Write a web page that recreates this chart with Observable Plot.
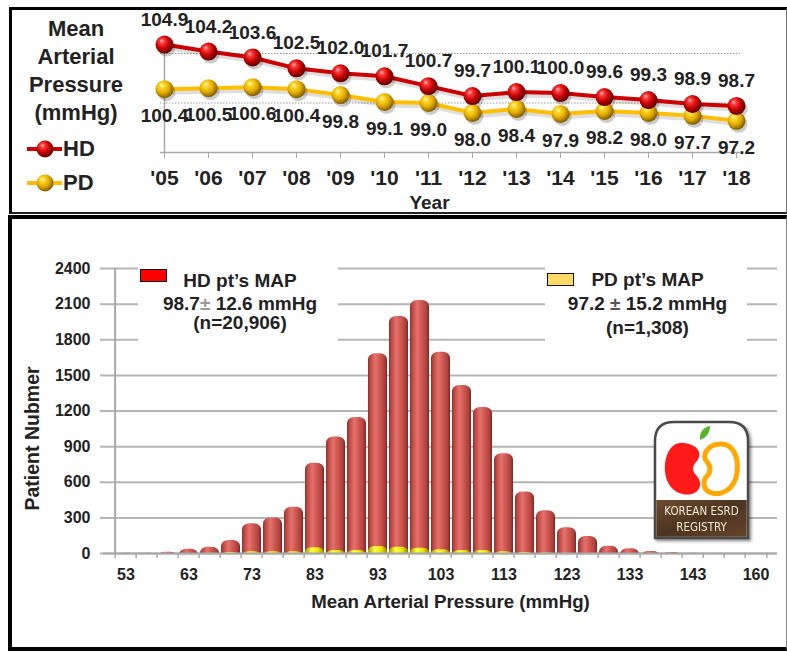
<!DOCTYPE html>
<html>
<head>
<meta charset="utf-8">
<script src="https://cdn.jsdelivr.net/npm/d3@7"></script>
<script src="https://cdn.jsdelivr.net/npm/@observablehq/plot@0.6"></script>
<style>
  body { margin: 0; background: #fff; font-family: "Liberation Sans", Arial, sans-serif; }
  #wrap { position: relative; width: 787px; height: 652px; overflow: hidden; background: #fff; }
  #wrap svg text { font-weight: bold; }
  .abs { position: absolute; }
  .panel { position: absolute; box-sizing: border-box; pointer-events: none; }
  .ttl { font-size: 22px; font-weight: bold; color: #222; text-align: center; line-height: 28px; }
  .leg { font-size: 22px; font-weight: bold; color: #222; }
  .mapbox { background: #fff; color: #222; font-weight: bold; font-size: 19px; text-align: center; line-height: 22px; }
  .swatch { position: absolute; width: 25px; height: 11px; border: 1.5px solid #111; }
</style>
</head>
<body>
<div id="wrap"></div>
<script>
// Yearly mean arterial pressure, HD vs PD patients
const years = ["'05", "'06", "'07", "'08", "'09", "'10", "'11", "'12", "'13", "'14", "'15", "'16", "'17", "'18"];
const hdMap = [104.9, 104.2, 103.6, 102.5, 102.0, 101.7, 100.7, 99.7, 100.1, 100.0, 99.6, 99.3, 98.9, 98.7];
const pdMap = [100.4, 100.5, 100.6, 100.4, 99.8, 99.1, 99.0, 98.0, 98.4, 97.9, 98.2, 98.0, 97.7, 97.2];

// Distribution of MAP in 2018 (patient counts per bin)
const mapBins = ["53", "56", "60", "63", "66", "70", "73", "76", "80", "83", "86", "90", "93", "96", "100",
                 "103", "106", "110", "113", "116", "120", "123", "126", "130", "133", "136", "140", "143", "146", "150", "160"];
const hdPatients = [2, 3, 11, 35, 53, 110, 250, 298, 390, 760, 982, 1145, 1682, 1995, 2130,
                    1695, 1415, 1230, 840, 517, 360, 216, 143, 62, 40, 17, 9, 3, 0, 0, 0];
const pdPatients = [0, 0, 0, 0, 3, 8, 14, 14, 15, 48, 25, 25, 58, 52, 45,
                    32, 25, 25, 15, 8, 5, 3, 0, 0, 0, 0, 0, 0, 0, 0, 0];
const countTicks = [0, 300, 600, 900, 1200, 1500, 1800, 2100, 2400];
const gridMap = [99, 104];

const FONT = "Liberation Sans, Arial, sans-serif";
const wrap = document.getElementById("wrap");

function addDefs(svg) {
  const defs = d3.select(svg).insert("defs", ":first-child");
  const ball = (id, stops) => {
    const g = defs.append("radialGradient").attr("id", id)
      .attr("cx", "42%").attr("cy", "40%").attr("r", "62%").attr("fx", "34%").attr("fy", "28%");
    stops.forEach(([o, c]) => g.append("stop").attr("offset", o).attr("stop-color", c));
  };
  ball("ballRed", [[0, "#ffc2c2"], [0.22, "#ff3a3a"], [0.6, "#c40000"], [1, "#560000"]]);
  ball("ballGold", [[0, "#fff8cc"], [0.22, "#ffd92a"], [0.6, "#e2aa00"], [1, "#7a5600"]]);
  const cyl = (id, stops) => {
    const g = defs.append("linearGradient").attr("id", id).attr("x1", 0).attr("x2", 1).attr("y1", 0).attr("y2", 0);
    stops.forEach(([o, c]) => g.append("stop").attr("offset", o).attr("stop-color", c));
  };
  cyl("cylRed", [[0, "#87302c"], [0.1, "#b9453f"], [0.38, "#e5726c"], [0.58, "#d35b55"], [0.86, "#b1423d"], [1, "#7b2723"]]);
  cyl("cylGold", [[0, "#a39c00"], [0.35, "#ffff44"], [0.7, "#e9e300"], [1, "#8f8900"]]);
}

// ---------- upper panel: yearly trend ----------
const yearly = years.map((year, i) => ({year, hd: hdMap[i], pd: pdMap[i]}));

const trend = Plot.plot({
  width: 787, height: 212,
  marginLeft: 160, marginRight: 47, marginTop: 53, marginBottom: 60,
  style: {background: "transparent", fontFamily: FONT, overflow: "visible"},
  x: {type: "point", domain: years, padding: 0},
  y: {domain: [94, 104], axis: null},
  marks: [
    Plot.ruleY(gridMap, {stroke: "#9a9a9a", strokeWidth: 1, strokeDasharray: "1.5,1.5"}),
    Plot.ruleX([years[0]], {y1: 94, y2: 104, stroke: "#a8a8a8", strokeWidth: 1.5}),
    Plot.ruleY([94], {stroke: "#a8a8a8", strokeWidth: 1.5}),
    Plot.axisX({tickSize: 6, tickPadding: 11.5, fontSize: 21, fontWeight: "bold", stroke: "#a8a8a8", fill: "#222", label: null}),
    Plot.text(["Year"], {frameAnchor: "bottom", textAnchor: "middle", lineAnchor: "middle", dx: -21, dy: 50.5,
                         fontSize: 19, fontWeight: "bold", fill: "#222"}),
    Plot.line(yearly, {x: "year", y: "pd", stroke: "#000", strokeOpacity: 0.13, strokeWidth: 5, dx: 2, dy: 3}),
    Plot.line(yearly, {x: "year", y: "hd", stroke: "#000", strokeOpacity: 0.13, strokeWidth: 5, dx: 2, dy: 3}),
    Plot.line(yearly, {x: "year", y: "pd", stroke: "#ffbf00", strokeWidth: 4}),
    Plot.line(yearly, {x: "year", y: "hd", stroke: "#cc0000", strokeWidth: 4}),
    Plot.dot(yearly, {x: "year", y: "pd", r: 9, fill: "#000", fillOpacity: 0.2, dx: 2, dy: 3}),
    Plot.dot(yearly, {x: "year", y: "hd", r: 9, fill: "#000", fillOpacity: 0.2, dx: 2, dy: 3}),
    Plot.dot(yearly, {x: "year", y: "pd", r: 9, fill: "url(#ballGold)"}),
    Plot.dot(yearly, {x: "year", y: "hd", r: 9, fill: "url(#ballRed)"}),
    Plot.text(yearly, {x: "year", y: "hd", text: d => d.hd.toFixed(1), dy: -25, fontSize: 19, fontWeight: "bold", fill: "#222"}),
    Plot.text(yearly, {x: "year", y: "pd", text: d => d.pd.toFixed(1), dy: 27, fontSize: 19, fontWeight: "bold", fill: "#222"})
  ]
});
addDefs(trend);
trend.style.position = "absolute";
trend.style.left = "0px";
trend.style.top = "0px";
wrap.appendChild(trend);

// ---------- lower panel: MAP distribution ----------
const bins = mapBins.map((bin, i) => ({bin, hd: hdPatients[i], pd: pdPatients[i]}));
const shownBins = mapBins.filter((d, i) => i % 3 === 0);
const left = 103, right = 777;
const step = (right - left) / mapBins.length;

const dist = Plot.plot({
  width: 787, height: 435,
  marginLeft: left, marginRight: 787 - right, marginTop: 53, marginBottom: 97,
  style: {background: "transparent", fontFamily: FONT, overflow: "visible"},
  x: {type: "band", domain: mapBins, paddingInner: 0.1, paddingOuter: 0.05},
  y: {domain: [0, 2400]},
  marks: [
    Plot.ruleY(countTicks, {stroke: "#b5b5b5", strokeWidth: 2}),
    Plot.barY(bins, {x: "bin", y: "hd", fill: "url(#cylRed)", rx: 7, ry: 6, insetBottom: -8, clip: true}),
    Plot.barY(bins, {x: "bin", y: "pd", fill: "url(#cylGold)", rx: 7, ry: 4, insetBottom: -8, clip: true}),
    Plot.ruleY([0], {stroke: "#a8a8a8", strokeWidth: 2}),
    Plot.ruleX([mapBins[0]], {y1: 0, y2: 2400, dx: -step / 2, stroke: "#a8a8a8", strokeWidth: 2}),
    Plot.axisY({ticks: countTicks, tickFormat: d => String(d), tickSize: 3, tickPadding: 10, fontSize: 16, fontWeight: "bold",
                stroke: "#b5b5b5", strokeWidth: 2, fill: "#222", label: null}),
    Plot.axisX({tickSize: 5, tickFormat: () => "", dx: -step / 2, stroke: "#a8a8a8", strokeWidth: 1.5, label: null}),
    Plot.axisX([mapBins[mapBins.length - 1]], {tickSize: 5, tickFormat: () => "", dx: step / 2, stroke: "#a8a8a8", strokeWidth: 1.5, label: null}),
    Plot.axisX({ticks: shownBins, tickSize: 0, tickPadding: 14.8, fontSize: 16, fontWeight: "bold", fill: "#222", label: null}),
    Plot.text(["Mean Arterial Pressure (mmHg)"], {frameAnchor: "bottom", textAnchor: "middle", lineAnchor: "middle",
                                                 dx: 10, dy: 49, fontSize: 18.7, fontWeight: "bold", fill: "#222"}),
    Plot.text(["Patient Nubmer"], {frameAnchor: "left", textAnchor: "middle", lineAnchor: "middle", rotate: -90,
                                   dx: -71, dy: 27.5, fontSize: 19.5, fontWeight: "bold", fill: "#222"})
  ]
});
addDefs(dist);
dist.style.position = "absolute";
dist.style.left = "0px";
dist.style.top = "215px";
wrap.appendChild(dist);

// ---------- panel frames, titles, legends, registry badge ----------
wrap.insertAdjacentHTML("beforeend", `
  <div class="panel" style="left:9px;top:7px;width:778px;height:207px;border-top:3px solid #000;border-left:3px solid #000;border-right:1.5px solid #777;border-bottom:2px solid #222;"></div>
  <div class="panel" style="left:8px;top:215px;width:779px;height:436px;border-top:4px solid #000;border-left:4px solid #000;border-right:1px solid #888;border-bottom:4px solid #000;"></div>

  <div class="abs ttl" style="left:0px;top:15px;width:152px;">Mean<br>Arterial<br>Pressure<br>(mmHg)</div>

  <svg class="abs" style="left:24px;top:137px;" width="42" height="24">
    <line x1="3" y1="12" x2="38" y2="12" stroke="#cc0000" stroke-width="4"/>
    <circle cx="21" cy="12" r="8.5" fill="url(#ballRed)"/>
  </svg>
  <div class="abs leg" style="left:63px;top:136px;line-height:26px;">HD</div>
  <svg class="abs" style="left:24px;top:171px;" width="42" height="24">
    <line x1="3" y1="12" x2="38" y2="12" stroke="#ffbf00" stroke-width="4"/>
    <circle cx="21" cy="12" r="8.5" fill="url(#ballGold)"/>
  </svg>
  <div class="abs leg" style="left:63px;top:170px;line-height:26px;">PD</div>

  <div class="abs mapbox" style="left:138px;top:263px;width:200px;height:86px;">
    <div class="swatch" style="left:2px;top:6px;background:#ff0000;"></div>
    <div style="position:absolute;left:0;width:204px;top:7px;">HD pt’s MAP</div>
    <div style="position:absolute;left:0;width:204px;top:30px;">98.7<span style="color:#9a9a9a">±</span> 12.6 mmHg</div>
    <div style="position:absolute;left:0;width:204px;top:49px;">(n=20,906)</div>
  </div>
  <div class="abs mapbox" style="left:545px;top:263px;width:202px;height:86px;">
    <div class="swatch" style="left:2px;top:10px;background:#ffd966;"></div>
    <div style="position:absolute;left:0;width:205px;top:6px;">PD pt’s MAP</div>
    <div style="position:absolute;left:0;width:205px;top:30px;">97.2 <span style="color:#555">±</span> 15.2 mmHg</div>
    <div style="position:absolute;left:0;width:205px;top:54px;">(n=1,308)</div>
  </div>

  <svg class="abs" style="left:652px;top:419px;filter:drop-shadow(2px 2px 1.5px rgba(0,0,0,0.45));" width="102" height="124">
    <defs>
      <linearGradient id="soil" x1="0" y1="0" x2="1" y2="1">
        <stop offset="0" stop-color="#6e4c30"/>
        <stop offset="0.5" stop-color="#4d3420"/>
        <stop offset="1" stop-color="#654429"/>
      </linearGradient>
    </defs>
    <path d="M3,119 L3,22 Q3,3 22,3 L77,3 Q96,3 96,22 L96,119 Z" fill="#fff" stroke="#4a4a4a" stroke-width="2.5"/>
    <rect x="4.3" y="81" width="90.4" height="36.8" fill="url(#soil)"/>
    <path d="M32,24 C18,22 12,38 13,52 C14,68 26,78 40,75 C50,72 50,62 44,56 C40,52 40,47 45,42 C50,36 48,26 32,24 Z" fill="#ff1a1a"/>
    <path d="M68,25 C82,24 87,40 85,54 C83,68 72,77 60,74 C51,72 50,62 55,57 C59,53 59,47 55,43 C50,37 54,26 68,25 Z" fill="none" stroke="#ffa800" stroke-width="5"/>
    <path d="M48,21 C47,13 52,8 58,7 C58,14 54,19 48,21 Z" fill="#55b52a"/>
    <text x="49.5" y="95.5" text-anchor="middle" font-family="Liberation Sans Narrow, DejaVu Sans Condensed, sans-serif" font-size="11.5" fill="#f2e8d2" style="font-weight:normal">KOREAN ESRD</text>
    <text x="49.5" y="112" text-anchor="middle" font-family="Liberation Sans Narrow, DejaVu Sans Condensed, sans-serif" font-size="11.5" fill="#f2e8d2" style="font-weight:normal">REGISTRY</text>
  </svg>
`);
</script>
</body>
</html>
